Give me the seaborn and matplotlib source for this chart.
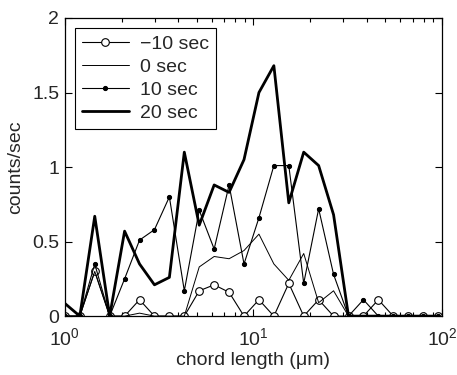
import numpy as np
import pandas as pd
import matplotlib
matplotlib.use("Agg")
import matplotlib.pyplot as plt
import seaborn as sns

sns.set_style("ticks")
plt.rcParams['font.family'] = ['Liberation Sans', 'DejaVu Sans']
plt.rcParams['mathtext.fontset'] = 'custom'
plt.rcParams['mathtext.rm'] = 'Liberation Sans'
plt.rcParams['mathtext.default'] = 'regular'

# chord length bins (log spaced, ratio 1.2)
chord = [1.2 ** k for k in range(26)]

m10 = [0, 0, 0.30, 0, 0, 0.11, 0, 0, 0, 0.17, 0.21, 0.16, 0, 0.11, 0, 0.22,
       0, 0.11, 0, 0, 0, 0.11, 0, 0, 0, 0]
s0 = [0, 0, 0.30, 0, 0, 0.02, 0, 0, 0, 0.33, 0.40, 0.385, 0.44, 0.55, 0.35, 0.24,
      0.42, 0.09, 0.17, 0, 0, 0, 0, 0, 0, 0]
s10 = [0, 0, 0.35, 0, 0.25, 0.51, 0.58, 0.80, 0.17, 0.71, 0.45, 0.88, 0.35, 0.66, 1.01, 1.01,
       0.22, 0.72, 0.28, 0, 0.11, 0, 0, 0, 0, 0]
s20 = [0.085, 0, 0.67, 0, 0.57, 0.35, 0.21, 0.26, 1.10, 0.61, 0.88, 0.83, 1.05, 1.50, 1.68, 0.76,
       1.10, 1.01, 0.68, 0, 0, 0, 0, 0, 0, 0]

labels = ["\u221210 sec", "0 sec", "10 sec", "20 sec"]

FS = 14

fig = plt.figure(figsize=(4.57, 3.75), dpi=100)
ax = fig.add_axes([0.142, 0.157, 0.825, 0.795])
ax.set_xscale('log')

sns.lineplot(x=chord, y=m10, ax=ax, color='black', linewidth=0.8, marker='o',
             markersize=5.5, markerfacecolor='white', markeredgecolor='black',
             markeredgewidth=0.8, label=labels[0], errorbar=None)
sns.lineplot(x=chord, y=s0, ax=ax, color='black', linewidth=0.7,
             label=labels[1], errorbar=None)
sns.lineplot(x=chord, y=s10, ax=ax, color='black', linewidth=0.8, marker='o',
             markersize=3, markerfacecolor='black', markeredgecolor='black',
             label=labels[2], errorbar=None)
sns.lineplot(x=chord, y=s20, ax=ax, color='black', linewidth=2.0,
             label=labels[3], errorbar=None)

ax.set_xlim(1, 100)
ax.set_ylim(0, 2)
ax.set_yticks([0, 0.5, 1, 1.5, 2])
ax.set_yticklabels(["0", "0.5", "1", "1.5", "2"])
ax.tick_params(which='both', direction='in', top=True, right=True, labelsize=FS,
               color='black', width=0.8)
ax.tick_params(which='major', length=5)
ax.tick_params(which='minor', length=3)
ax.tick_params(axis='x', which='major', pad=8)
ax.tick_params(axis='y', which='major', pad=4)
for sp in ax.spines.values():
    sp.set_visible(True)
    sp.set_linewidth(0.9)
    sp.set_color('black')
ax.set_xlabel("chord length (\u03bcm)", fontsize=FS, labelpad=2)
ax.set_ylabel("counts/sec", fontsize=FS, labelpad=6)

leg = ax.legend(loc='upper left', bbox_to_anchor=(0.027, 0.966), borderaxespad=0,
                fontsize=FS, handlelength=2.4, fancybox=False, edgecolor='black',
                framealpha=1, borderpad=0.35, labelspacing=0.28, handletextpad=0.6)
leg.get_frame().set_linewidth(0.8)

fig.savefig("out.png", dpi=100)
